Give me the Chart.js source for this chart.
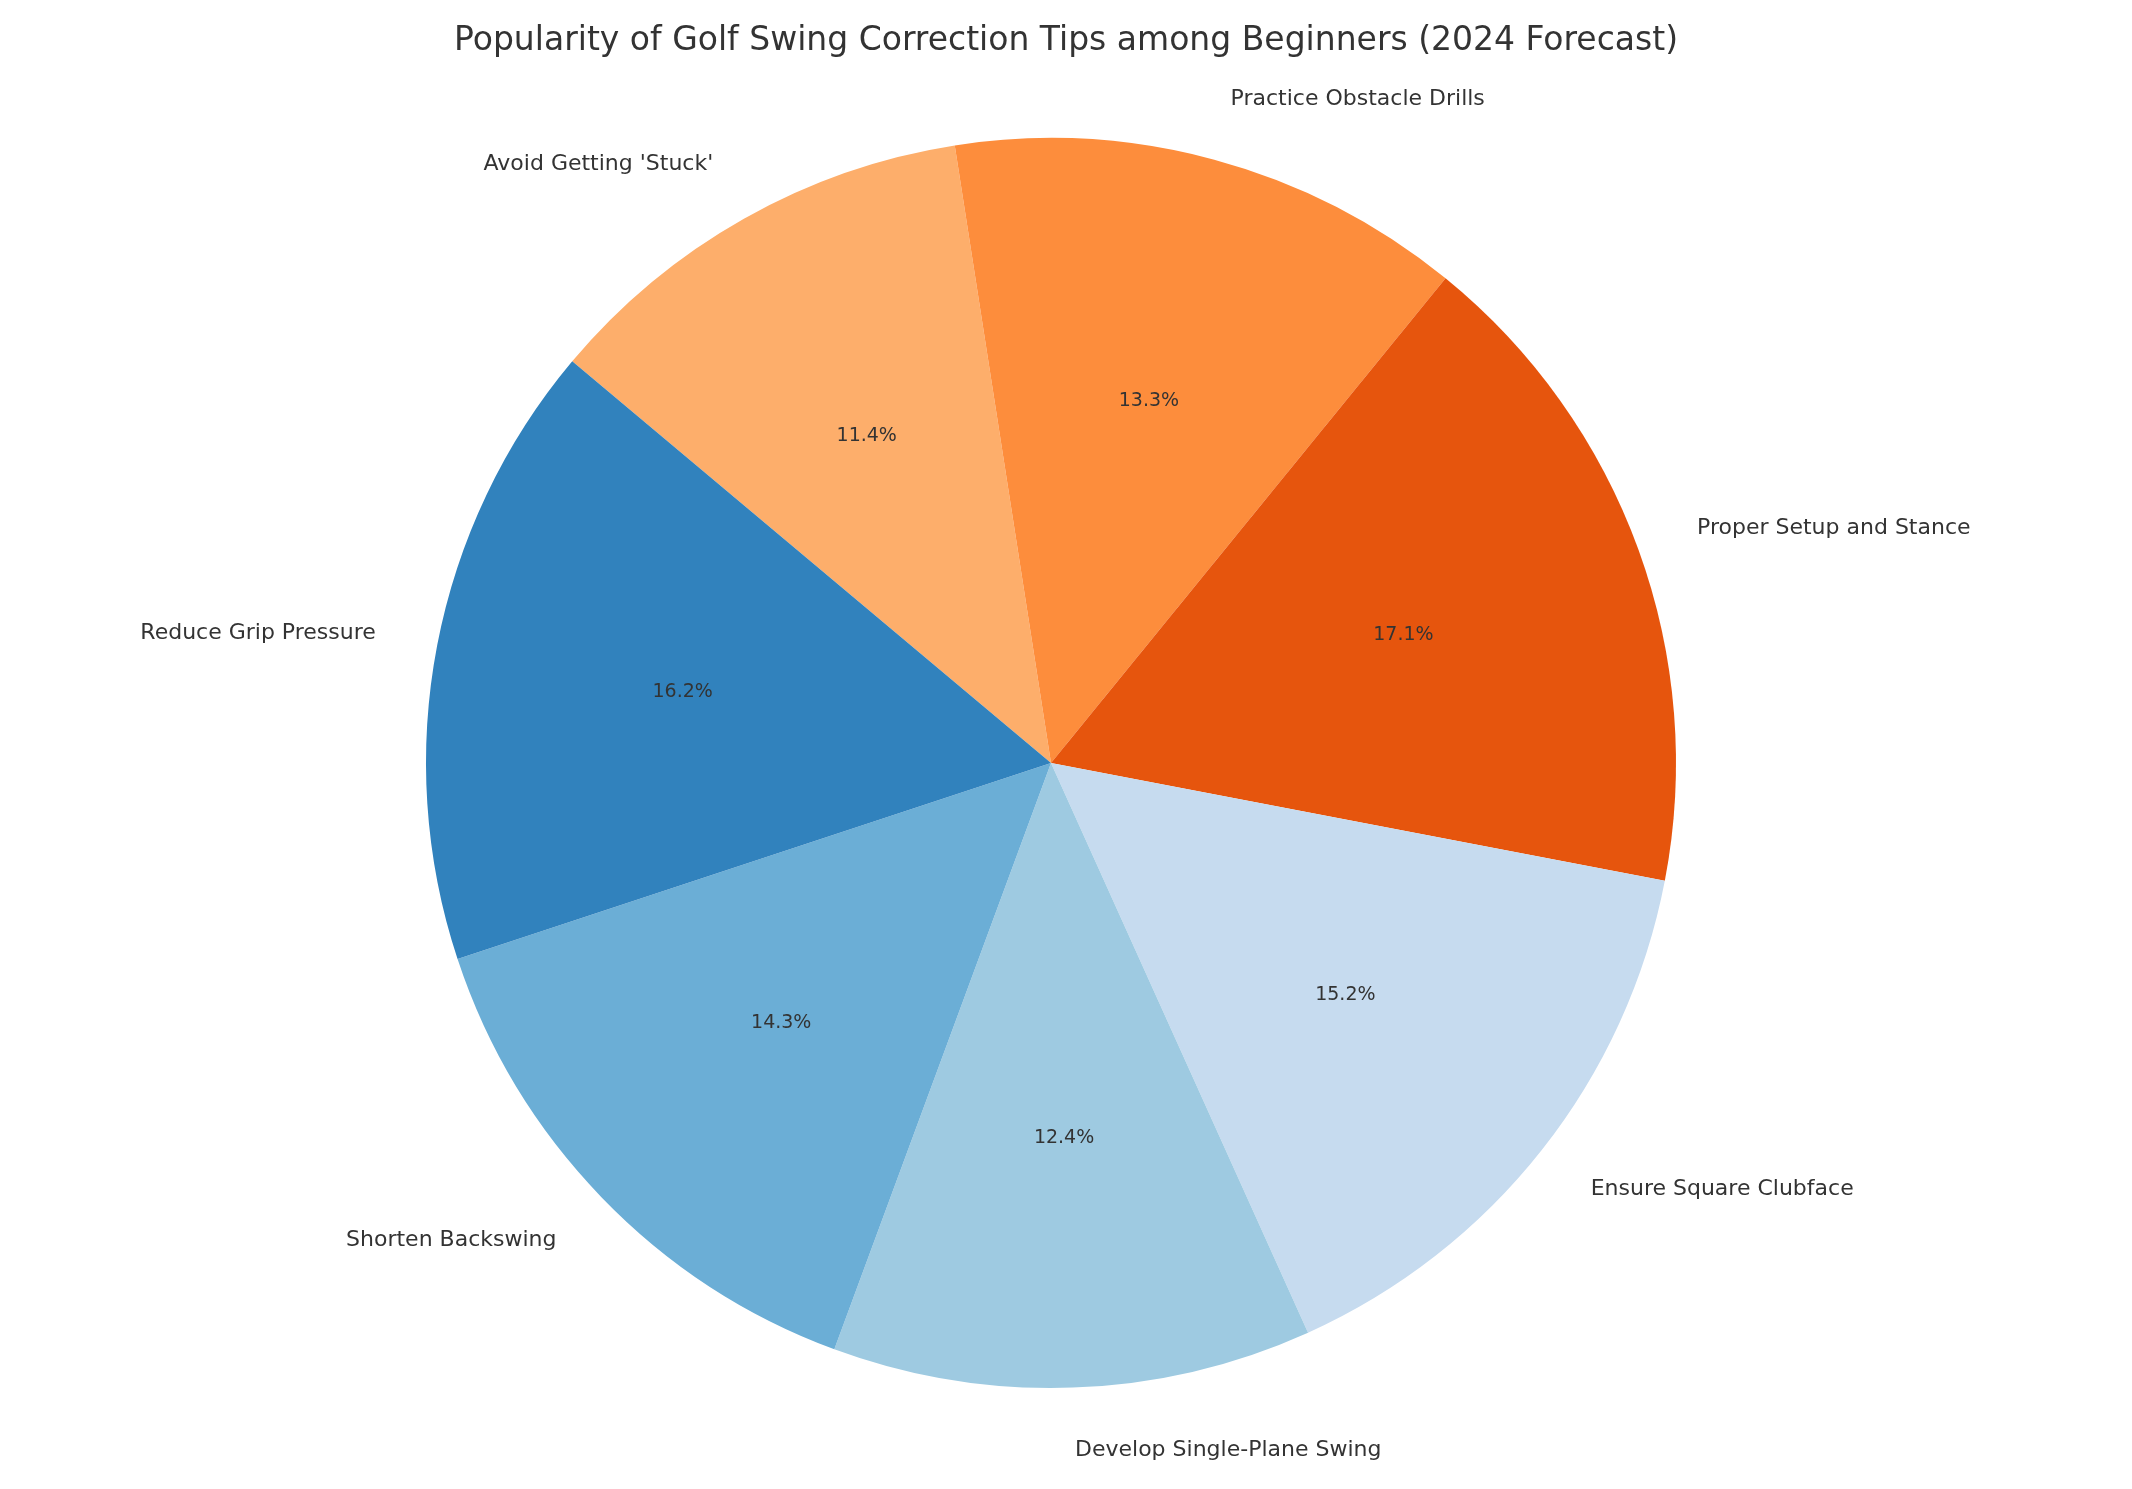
<!DOCTYPE html>
<html>
<head>
<meta charset="utf-8">
<script src="https://cdn.jsdelivr.net/npm/chart.js@4/dist/chart.umd.min.js"></script>
<style>
  html, body { margin: 0; padding: 0; background: #fff; }
  #wrap { width: 2132px; height: 1489px; }
</style>
</head>
<body>
<div id="wrap"><canvas id="pie"></canvas></div>
<script>
// listed clockwise, starting at the top-left edge
const tips = ["Avoid Getting 'Stuck'", 'Practice Obstacle Drills', 'Proper Setup and Stance',
    'Ensure Square Clubface', 'Develop Single-Plane Swing', 'Shorten Backswing', 'Reduce Grip Pressure'];
const votes = [12, 14, 18, 16, 13, 15, 17];
const colors = ['#fdae6b', '#fd8d3c', '#e6550d', '#c6dbef', '#9ecae1', '#6baed6', '#3182bd'];
const chartTitle = 'Popularity of Golf Swing Correction Tips among Beginners (2024 Forecast)';

const labelPlugin = {
    id: 'pieLabels',
    afterDraw(chart) {
        const ctx = chart.ctx;
        const total = votes.reduce((a, b) => a + b, 0);
        ctx.save();
        ctx.fillStyle = '#333';
        ctx.textAlign = 'center';
        ctx.textBaseline = 'middle';
        ctx.font = '33px "DejaVu Sans"';
        ctx.fillText(chartTitle, chart.width / 2, 41);

        chart.getDatasetMeta(0).data.forEach((arc, i) => {
            const mid = (arc.startAngle + arc.endAngle) / 2;
            const r = arc.outerRadius;
            const cx = Math.cos(mid), cy = Math.sin(mid);
            ctx.font = '22px "DejaVu Sans"';
            ctx.textAlign = cx > 0.001 ? 'left' : (cx < -0.001 ? 'right' : 'center');
            ctx.fillText(tips[i], arc.x + cx * r * 1.1, arc.y + cy * r * 1.1);
            ctx.font = '19px "DejaVu Sans"';
            ctx.textAlign = 'center';
            ctx.fillText((votes[i] / total * 100).toFixed(1) + '%', arc.x + cx * r * 0.6, arc.y + cy * r * 0.6);
        });
        ctx.restore();
    }
};

new Chart(document.getElementById('pie'), {
    type: 'pie',
    data: {
        labels: tips,
        datasets: [{ data: votes, backgroundColor: colors, borderWidth: 0 }]
    },
    options: {
        responsive: true,
        maintainAspectRatio: false,
        animation: false,
        rotation: -50,
        layout: { padding: { top: 138, bottom: 101, left: 426, right: 456 } },
        plugins: { legend: { display: false }, tooltip: { enabled: false } }
    },
    plugins: [labelPlugin]
});
</script>
</body>
</html>
